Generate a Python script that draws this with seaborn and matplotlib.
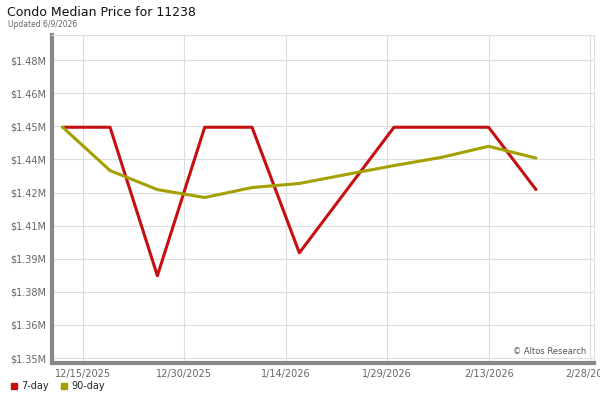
import matplotlib
matplotlib.use("Agg")
import matplotlib.pyplot as plt
import matplotlib.dates as mdates
from matplotlib.lines import Line2D
import seaborn as sns
import pandas as pd
import numpy as np

dates = ["2025-12-12", "2025-12-19", "2025-12-26", "2026-01-02", "2026-01-09",
         "2026-01-16", "2026-01-23", "2026-01-30", "2026-02-06", "2026-02-13",
         "2026-02-20"]
seven_day = [1.4498, 1.4498, 1.3843, 1.4498, 1.4498, 1.3944, 1.4221, 1.4498,
             1.4498, 1.4498, 1.4223]
ninety_day = [1.4498, 1.4307, 1.4223, 1.4188, 1.4232, 1.4250, 1.4290, 1.4329,
              1.4365, 1.4414, 1.4362]
tick_dates = ["2025-12-15", "2025-12-30", "2026-01-14", "2026-01-29",
              "2026-02-13", "2026-02-28"]
y_ticks = [1.348 + 0.0146 * k for k in range(10)]

df = pd.DataFrame({
    "date": pd.to_datetime(dates * 2),
    "price": seven_day + ninety_day,
    "series": ["7-day"] * len(dates) + ["90-day"] * len(dates),
})

sns.set_style("white")
plt.rcParams['font.family'] = ['DejaVu Sans']

colors = {"7-day": "#c41010", "90-day": "#a3a000"}

fig = plt.figure(figsize=(6, 4), dpi=100)
ax = fig.add_axes([0.0867, 0.0925, 0.9033, 0.82])

sns.lineplot(data=df, x="date", y="price", hue="series", palette=colors,
             linewidth=2.2, ax=ax, legend=False, zorder=3)

ax.set_xlim(pd.Timestamp("2025-12-10 10:00"), pd.Timestamp("2026-02-28 14:00"))
ax.set_ylim(1.3458, 1.4905)
ax.set_xticks(pd.to_datetime(tick_dates))
ax.xaxis.set_major_formatter(mdates.DateFormatter("%-m/%-d/%Y"))
ax.set_yticks(y_ticks)
ax.set_yticklabels([f"${v:.2f}M" for v in y_ticks])
ax.set_xlabel("")
ax.set_ylabel("")

ax.grid(True, color="#dddddd", linewidth=0.8, zorder=0)
ax.tick_params(axis="both", labelsize=7, colors="#666666", length=0, pad=4)
for lab in ax.get_xticklabels() + ax.get_yticklabels():
    lab.set_color("#666666")

ax.spines["left"].set_color("#888888")
ax.spines["left"].set_linewidth(3)
ax.spines["bottom"].set_color("#888888")
ax.spines["bottom"].set_linewidth(3)
ax.spines["top"].set_color("#dddddd")
ax.spines["top"].set_linewidth(0.8)
ax.spines["right"].set_color("#dddddd")
ax.spines["right"].set_linewidth(0.8)

ax.text(0.985, 0.02, "© Altos Research", transform=ax.transAxes, ha="right",
        va="bottom", fontsize=6, color="#555555")

fig.text(0.012, 0.985, "Condo Median Price for 11238", fontsize=9, va="top",
         ha="left", color="#111111")
fig.text(0.013, 0.950, "Updated 6/9/2026", fontsize=5.5, va="top", ha="left",
         color="#666666")

handles = [Line2D([0], [0], marker="s", linestyle="", markersize=5,
                  markerfacecolor=colors[k], markeredgecolor=colors[k], label=k)
           for k in ["7-day", "90-day"]]
fig.legend(handles=handles, loc="lower left", bbox_to_anchor=(0.0, 0.0),
           ncol=2, frameon=False, fontsize=7, handletextpad=0.3,
           columnspacing=1.0, handlelength=1.0)

fig.savefig("out.png", dpi=100)
